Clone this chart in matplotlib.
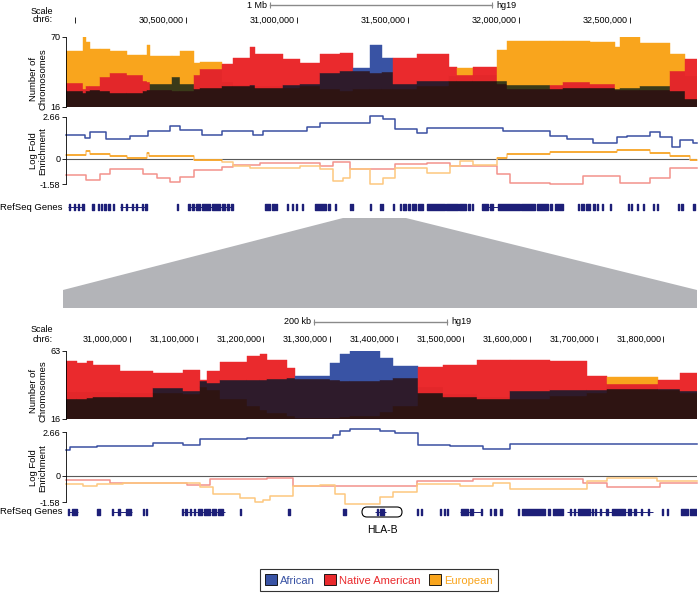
import matplotlib
matplotlib.use('Agg')
import matplotlib.pyplot as plt
from matplotlib.patches import Polygon, Patch, FancyBboxPatch
from matplotlib.transforms import IdentityTransform

plt.rcParams['font.family'] = ['Liberation Sans', 'DejaVu Sans']

# ---------------- data: 1 Mb view (chr6, Mb) ----------------
top_range = (29.959, 32.802)
top_pos = [29.959, 30.036, 30.050, 30.068, 30.113, 30.158, 30.234, 30.306, 30.324, 30.338,
           30.437, 30.473, 30.536, 30.563, 30.662, 30.712, 30.788, 30.811, 30.937, 31.014,
           31.104, 31.194, 31.252, 31.329, 31.383, 31.432, 31.541, 31.685, 31.721, 31.793,
           31.901, 31.946, 32.140, 32.198, 32.320, 32.432, 32.455, 32.545, 32.680, 32.748]
top_afr = [28, 27, 28, 29, 28, 27, 27, 28, 29, 34, 39, 34, 30, 31, 32, 32, 33, 31, 33, 34,
           42, 44, 46, 64, 54, 34, 36, 36, 36, 36, 36, 33, 30, 31, 31, 30, 31, 32, 28, 22]
top_nat = [34.5, 30, 32, 32, 39, 42, 41, 36, 35, 29, 28, 28, 41, 45, 49, 54, 62, 57, 53, 50,
           57, 58, 44, 42, 43, 54, 57, 47, 41, 47, 34, 30, 33, 35, 34, 29, 29, 29, 44, 53]
top_eur = [59, 70, 66, 61, 61, 59, 56, 56, 64, 55, 55, 59, 50, 51, 35, 33, 32, 32, 31, 32,
           30, 28, 30, 30, 30, 30, 32, 40, 46, 41, 60, 67, 67, 67, 66, 62, 70, 65, 57, 40]

top_lfe_afr_pos = [29.959, 30.045, 30.068, 30.140, 30.248, 30.329, 30.428, 30.473, 30.572, 30.662,
                   30.802, 30.847, 31.045, 31.104, 31.329, 31.387, 31.441, 31.541, 31.586, 31.928,
                   32.140, 32.216, 32.333, 32.441, 32.486, 32.590, 32.635, 32.689, 32.725, 32.784]
top_lfe_afr = [1.50, 1.29, 1.71, 1.25, 1.46, 1.77, 2.05, 1.81, 1.50, 1.77,
               1.50, 1.77, 1.98, 2.28, 2.72, 2.51, 1.88, 1.62, 1.92, 1.77,
               1.46, 1.25, 1.03, 1.35, 1.46, 1.67, 1.35, 0.72, 1.18, 0.98]
top_lfe_eur_pos = [29.959, 30.050, 30.068, 30.158, 30.234, 30.324, 30.333, 30.473, 30.536, 30.662,
                   30.712, 30.788, 31.014, 31.104, 31.162, 31.207, 31.239, 31.329, 31.387, 31.441,
                   31.586, 31.689, 31.734, 31.793, 31.901, 31.946, 32.140, 32.441, 32.590, 32.680,
                   32.770]
top_lfe_eur = [0.23, 0.51, 0.30, 0.20, 0.08, 0.36, 0.17, 0.20, -0.06, -0.20,
               -0.44, -0.55, -0.44, -0.65, -1.39, -1.20, -0.65, -1.58, -1.18, -0.55,
               -0.86, -0.44, -0.13, -0.40, 0.06, 0.30, 0.44, 0.57, 0.40, 0.20,
               -0.06]
top_lfe_nat_pos = [29.959, 30.050, 30.113, 30.158, 30.306, 30.369, 30.428, 30.473, 30.536, 30.662,
                   30.712, 30.833, 31.104, 31.162, 31.239, 31.441, 31.586, 31.689, 31.901, 31.959,
                   32.140, 32.288, 32.455, 32.590, 32.680]
top_lfe_nat = [-1.03, -1.33, -0.95, -0.65, -0.95, -1.18, -1.46, -1.12, -0.70, -0.49,
               -0.40, -0.27, -0.44, -0.20, -0.65, -0.34, -0.23, -0.44, -0.97, -1.50,
               -1.56, -1.08, -1.50, -1.20, -0.55]

top_ticks = [30.0, 30.5, 31.0, 31.5, 32.0, 32.5]
top_scalebar = (30.878, 31.878, '1 Mb')

top_gene_lines = [(29.968, 30.041), (30.203, 30.324), (30.509, 30.712), (31.833, 31.905)]
top_gene_blocks = [(29.973, 29.977), (29.995, 30.000), (30.014, 30.018), (30.032, 30.041),
                   (30.077, 30.086), (30.104, 30.108), (30.117, 30.122), (30.131, 30.140),
                   (30.149, 30.158), (30.171, 30.176), (30.207, 30.212), (30.230, 30.234),
                   (30.257, 30.261), (30.275, 30.279), (30.302, 30.306), (30.315, 30.324),
                   (30.459, 30.464), (30.509, 30.518), (30.527, 30.536), (30.545, 30.563),
                   (30.572, 30.608), (30.617, 30.653), (30.662, 30.676), (30.685, 30.694),
                   (30.703, 30.712), (30.856, 30.878), (30.887, 30.901), (30.905, 30.910),
                   (30.955, 30.959), (30.977, 30.982), (30.995, 31.000), (31.023, 31.027),
                   (31.081, 31.131), (31.140, 31.149), (31.171, 31.176), (31.239, 31.243),
                   (31.248, 31.252), (31.329, 31.333), (31.374, 31.378), (31.383, 31.387),
                   (31.432, 31.437), (31.464, 31.468), (31.477, 31.491), (31.500, 31.509),
                   (31.518, 31.536), (31.545, 31.568), (31.586, 31.667), (31.671, 31.725),
                   (31.730, 31.761), (31.770, 31.779), (31.788, 31.793), (31.833, 31.860),
                   (31.869, 31.883), (31.905, 32.005), (32.009, 32.072), (32.081, 32.131),
                   (32.140, 32.149), (32.162, 32.198), (32.266, 32.270), (32.279, 32.293),
                   (32.302, 32.320), (32.333, 32.342), (32.351, 32.356), (32.374, 32.378),
                   (32.410, 32.414), (32.491, 32.495), (32.504, 32.509), (32.532, 32.536),
                   (32.558, 32.563), (32.604, 32.608), (32.622, 32.626), (32.716, 32.721),
                   (32.730, 32.739), (32.784, 32.793)]

# ---------------- data: 200 kb view ----------------
bot_range = (30.904, 31.8505)
bot_pos = [30.904, 30.9205, 30.9355, 30.9445, 30.985, 31.0345, 31.0795, 31.105, 31.1155, 31.135,
           31.1755, 31.195, 31.2055, 31.2355, 31.2475, 31.300, 31.315, 31.330, 31.375, 31.3945,
           31.432, 31.4695, 31.5205, 31.570, 31.630, 31.6855, 31.7155, 31.792, 31.825]
bot_afr = [30, 30, 30.5, 31, 31, 37.7, 35.6, 42, 41, 42.7, 43, 43, 43.5, 44, 45.5,
           55, 61, 63.7, 58, 52.5, 34, 31, 30, 35.6, 36, 36, 37, 37, 35.6]
bot_nat = [56, 54.6, 56, 53, 49, 47.6, 49.7, 42.7, 49, 55.3, 59.5, 61, 56.7, 51, 43.4,
           43, 42.5, 42, 43, 44, 51.8, 53, 56.7, 56.7, 56, 46, 40.5, 42.7, 47.6]
bot_eur = [35, 35, 35, 35, 34, 34, 33, 38, 36, 30, 25, 22, 20, 18, 17,
           17, 17.5, 18, 21, 25, 38, 33, 31, 30, 32, 34, 44.8, 36, 34]

bot_lfe_afr_pos = [30.904, 30.910, 30.9505, 31.0345, 31.0795, 31.105, 31.1755, 31.3045,
                   31.315, 31.330, 31.375, 31.3975, 31.432, 31.480, 31.5295, 31.570]
bot_lfe_afr = [1.55, 1.73, 1.79, 2.00, 1.90, 2.26, 2.32, 2.50,
               2.70, 2.83, 2.70, 2.60, 1.90, 1.84, 1.65, 1.94]
bot_lfe_eur_pos = [30.904, 30.9295, 30.9505, 30.9895, 31.105, 31.1245, 31.165, 31.1875,
                   31.1995, 31.210, 31.2445, 31.285, 31.3075, 31.3225, 31.375, 31.3945,
                   31.4305, 31.495, 31.5445, 31.570, 31.6855, 31.7155, 31.7905]
bot_lfe_eur = [-0.46, -0.60, -0.46, -0.42, -0.67, -1.10, -1.35, -1.60,
               -1.45, -1.20, -0.63, -0.53, -1.10, -1.69, -1.27, -0.95,
               -0.48, -0.59, -0.42, -0.80, -0.32, -0.10, -0.32]
bot_lfe_nat_pos = [30.904, 30.970, 31.0855, 31.120, 31.2055, 31.2445, 31.330, 31.4305,
                   31.5145, 31.6795, 31.7155, 31.795]
bot_lfe_nat = [-0.25, -0.42, -0.53, -0.21, -0.10, -0.60, -0.63, -0.32,
               -0.17, -0.42, -0.69, -0.42]

bot_ticks = [30.9, 31.0, 31.1, 31.2, 31.3, 31.4, 31.5, 31.6, 31.7, 31.8]
bot_scalebar = (31.276, 31.476, '200 kb')

bot_gene_lines = [(30.907, 30.922), (30.973, 31.003), (31.078, 31.1425), (31.3675, 31.384),
                  (31.495, 31.528), (31.6555, 31.7845)]
bot_gene_blocks = [(30.907, 30.9085), (30.913, 30.9205), (30.9505, 30.955), (30.973, 30.9745),
                   (30.982, 30.985), (30.994, 31.0015), (31.0195, 31.021), (31.024, 31.0255),
                   (31.078, 31.0795), (31.0825, 31.0855), (31.090, 31.0915), (31.096, 31.0975),
                   (31.102, 31.108), (31.111, 31.120), (31.123, 31.129), (31.132, 31.1395),
                   (31.165, 31.1665), (31.237, 31.240), (31.3195, 31.324), (31.3705, 31.372),
                   (31.375, 31.381), (31.4305, 31.432), (31.4365, 31.438), (31.465, 31.4665),
                   (31.471, 31.4725), (31.4755, 31.477), (31.4965, 31.507), (31.510, 31.5145),
                   (31.5265, 31.528), (31.540, 31.5415), (31.546, 31.549), (31.555, 31.558),
                   (31.582, 31.5835), (31.588, 31.6225), (31.627, 31.630), (31.6345, 31.6495),
                   (31.660, 31.6615), (31.666, 31.6675), (31.672, 31.690), (31.693, 31.6945),
                   (31.6975, 31.699), (31.705, 31.7065), (31.714, 31.717), (31.723, 31.7425),
                   (31.747, 31.7515), (31.756, 31.759), (31.7665, 31.768), (31.777, 31.7785),
                   (31.798, 31.7995), (31.8055, 31.807), (31.8265, 31.837), (31.840, 31.8505)]
hla_b = (31.378, 'HLA-B')

populations = ['African', 'Native American', 'European']

# ---------------- styling ----------------
W, H = 700, 598
fill_col = {'AFR': '#3953a4', 'NAT': '#ea2a2d', 'EUR': '#f9a51d'}
pair_col = {('AFR', 'NAT'): '#2e1b2b', ('AFR', 'EUR'): '#3a3a19', ('EUR', 'NAT'): '#e3272a'}
all_col = '#2e1412'
line_afr = '#3a50a2'
line_nat = '#f3928c'
line_eur_pos = '#f6a01c'
line_eur_neg = '#fdc87e'
navy = '#1d1f78'
fs = 6.5      # tick labels / header
fs_lab = 6.8  # track labels

fig = plt.figure(figsize=(W / 100, H / 100), dpi=100)


def px_axes(x0, y0, x1, y1):
    return fig.add_axes([x0 / W, 1 - y1 / H, (x1 - x0) / W, (y1 - y0) / H])


def ftext(x, y, s, **kw):
    fig.text(x / W, 1 - y / H, s, fontsize=kw.pop('fontsize', fs), **kw)


def clean(ax):
    for s in ['top', 'right', 'bottom']:
        ax.spines[s].set_visible(False)
    ax.spines['left'].set_linewidth(0.6)
    ax.tick_params(axis='y', length=3, width=0.6, labelsize=fs, pad=1)
    ax.set_xticks([])
    ax.patch.set_alpha(0)


def draw_area(ax, pos, afr, nat, eur, xmax, ymin):
    edges = list(pos) + [xmax]
    for i in range(len(pos)):
        v = {'AFR': afr[i], 'NAT': nat[i], 'EUR': eur[i]}
        order = sorted(v, key=v.get, reverse=True)
        hi, mid, lo = (v[k] for k in order)
        w = edges[i + 1] - edges[i]
        c_mid = pair_col[tuple(sorted(order[:2]))]
        for b, t, c in [(ymin, lo, all_col), (lo, mid, c_mid), (mid, hi, fill_col[order[0]])]:
            if t > b:
                ax.bar(edges[i], t - b, w, bottom=b, align='edge', color=c,
                       edgecolor=c, linewidth=0.3)


def draw_step(ax, pos, vals, xmax, color):
    x = list(pos) + [xmax]
    y = list(vals) + [vals[-1]]
    ax.step(x, y, where='post', color=color, lw=1.1, clip_on=False)


def draw_eur(ax, pos, vals, xmax):
    draw_step(ax, pos, vals, xmax, line_eur_neg)
    edges = list(pos) + [xmax]
    for i, v in enumerate(vals):
        if v >= -0.08:
            ax.hlines(v, edges[i], edges[i + 1], color=line_eur_pos, lw=1.1)


def draw_genes(ax, lines, blocks):
    for s, e in lines:
        ax.hlines(0, s, e, color=navy, lw=0.7)
    ax.broken_barh([(s, e - s) for s, e in blocks], (-0.55, 1.1), color=navy)
    ax.set_ylim(-1, 1)
    ax.axis('off')


def draw_header(ax, rng, ticks, bar, y_bar, y_lab):
    ax.set_xlim(*rng)
    ax.set_ylim(30, 0)
    ax.axis('off')
    b0, b1, lab = bar
    ax.plot([b0, b1], [y_bar, y_bar], color='#8a8a8a', lw=1.0)
    ax.vlines([b0, b1], y_bar - 3, y_bar + 3, color='#8a8a8a', lw=0.8)
    ax.annotate(lab, (b0, y_bar), xytext=(-2, 0), textcoords='offset points',
                ha='right', va='center', fontsize=fs)
    ax.annotate('hg19', (b1, y_bar), xytext=(3, 0), textcoords='offset points',
                ha='left', va='center', fontsize=fs)
    ax.vlines(ticks, y_lab - 3, y_lab + 3, color='black', lw=0.6)
    for t in ticks[1:]:
        ax.annotate(f"{int(round(t * 1e6)):,}", (t, y_lab), xytext=(-1.5, 0),
                    textcoords='offset points', ha='right', va='center', fontsize=fs)


def draw_section(rng, pos, afr, nat, eur, ytop, lfe, ticks, bar, lines, blocks, y):
    hdr = px_axes(66, y['hdr0'], 697, y['hdr0'] + 30)
    draw_header(hdr, rng, ticks, bar, y['bar'] - y['hdr0'], y['lab'] - y['hdr0'])
    ftext(53, y['scale'], 'Scale', ha='right', va='center')
    ftext(53, y['lab'], 'chr6:', ha='right', va='center')

    ax = px_axes(66, y['a0'], 697, y['a1'])
    draw_area(ax, pos, afr, nat, eur, rng[1], 16)
    ax.set_xlim(*rng)
    ax.set_ylim(16, ytop)
    ax.set_yticks([16, ytop])
    clean(ax)
    ftext(38, y['alab'], 'Number of\nChromosomes', rotation=90, ha='center', va='center',
          fontsize=fs_lab, multialignment='center', linespacing=1.1)

    lx = px_axes(66, y['l0'], 697, y['l1'])
    (pa, va), (pn, vn), (pe, ve) = lfe
    lx.axhline(0, color='#5a5a5a', lw=0.8)
    draw_step(lx, pn, vn, rng[1], line_nat)
    draw_eur(lx, pe, ve, rng[1])
    draw_step(lx, pa, va, rng[1], line_afr)
    lx.set_xlim(*rng)
    lx.set_ylim(-1.58, 2.66)
    lx.set_yticks([-1.58, 0, 2.66])
    lx.set_yticklabels(['-1.58', '0', '2.66'])
    clean(lx)
    ftext(38, y['llab'], 'Log Fold\nEnrichment', rotation=90, ha='center', va='center',
          fontsize=fs_lab, multialignment='center', linespacing=1.1)

    gx = px_axes(66, y['g'] - 5, 697, y['g'] + 5)
    gx.set_xlim(*rng)
    draw_genes(gx, lines, blocks)
    ftext(63, y['g'], 'RefSeq Genes', ha='right', va='center', fontsize=fs_lab)
    return gx


draw_section(top_range, top_pos, top_afr, top_nat, top_eur, 70,
             [(top_lfe_afr_pos, top_lfe_afr), (top_lfe_nat_pos, top_lfe_nat),
              (top_lfe_eur_pos, top_lfe_eur)],
             top_ticks, top_scalebar, top_gene_lines, top_gene_blocks,
             dict(hdr0=0, bar=5, scale=11, lab=20, a0=37, a1=107, alab=79,
                  l0=116.7, l1=184, llab=151, g=207))

gx2 = draw_section(bot_range, bot_pos, bot_afr, bot_nat, bot_eur, 63,
                   [(bot_lfe_afr_pos, bot_lfe_afr), (bot_lfe_nat_pos, bot_lfe_nat),
                    (bot_lfe_eur_pos, bot_lfe_eur)],
                   bot_ticks, bot_scalebar, bot_gene_lines, bot_gene_blocks,
                   dict(hdr0=316, bar=322, scale=330, lab=339, a0=351, a1=419, alab=391,
                        l0=432, l1=502, llab=468, g=512))

# HLA-B label with rounded outline
gx2.annotate(hla_b[1], (hla_b[0], 0), xytext=(0, -13), textcoords='offset points',
             ha='center', va='center', fontsize=7.5, annotation_clip=False)
fig.add_artist(FancyBboxPatch((362, H - 517), 40, 10, boxstyle='round,pad=0,rounding_size=5',
                              transform=IdentityTransform(), fc='none', ec='black', lw=0.8))

# zoom trapezoid
trap = [(343, 218), (406, 218), (697, 290), (697, 308), (63, 308), (63, 290)]
fig.add_artist(Polygon([(x / W, 1 - yy / H) for x, yy in trap], closed=True,
                       transform=fig.transFigure, fc='#b3b4b8', ec='none'))

# legend
handles = [Patch(facecolor=fill_col[k], edgecolor='black', linewidth=0.6)
           for k in ['AFR', 'NAT', 'EUR']]
leg = fig.legend(handles, populations, loc='center', ncol=3,
                 bbox_to_anchor=(379 / W, 1 - 580 / H), fontsize=8, frameon=True,
                 fancybox=False, edgecolor='black', handlelength=1.1, handleheight=1.1,
                 handletextpad=0.25, columnspacing=0.8, borderpad=0.45, borderaxespad=0)
leg.get_frame().set_linewidth(0.8)
for t, k in zip(leg.get_texts(), ['AFR', 'NAT', 'EUR']):
    t.set_color(fill_col[k])

fig.savefig('out.png', dpi=100)
